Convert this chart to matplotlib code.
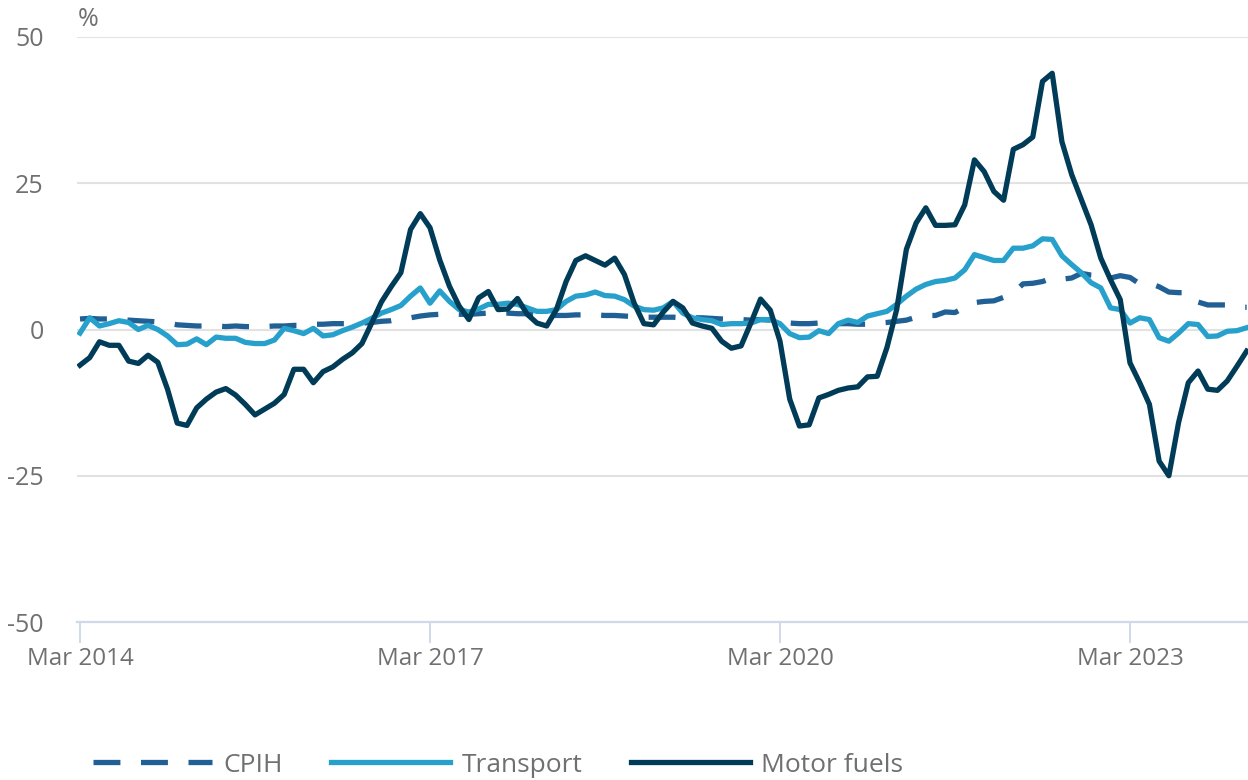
import numpy as np
import pandas as pd
import matplotlib
matplotlib.use("Agg")
import matplotlib.pyplot as plt

# annual rates, Mar 2014 - Mar 2024 (monthly)
months = pd.period_range("2014-03", "2024-03", freq="M")

cpih = [1.8, 1.9, 1.8, 1.8, 1.7, 1.6, 1.5, 1.4, 1.3, 1.1,
        0.8, 0.7, 0.6, 0.6, 0.6, 0.5, 0.6, 0.5, 0.5, 0.5, 0.6, 0.6,
        0.7, 0.7, 0.9, 0.9, 1.0, 1.0, 1.0, 1.1, 1.2, 1.4, 1.5, 1.8,
        2.0, 2.3, 2.5, 2.6, 2.7, 2.6, 2.6, 2.7, 2.8, 2.8, 2.8, 2.7,
        2.7, 2.5, 2.4, 2.4, 2.4, 2.5, 2.5, 2.5, 2.4, 2.4, 2.3, 2.2,
        2.1, 2.1, 2.1, 2.1, 2.0, 2.0, 2.0, 1.9, 1.8, 1.7, 1.7, 1.6,
        1.7, 1.6, 1.3, 1.1, 1.0, 1.0, 1.1, 1.0, 1.0, 1.0, 0.9, 0.9,
        1.1, 1.2, 1.4, 1.6, 2.1, 2.4, 2.4, 3.0, 2.9, 3.8, 4.6, 4.8,
        4.9, 5.5, 6.2, 7.8, 7.9, 8.2, 8.8, 8.6, 8.8, 9.6, 9.3, 9.2,
        8.8, 9.2, 8.9, 7.8, 7.9, 7.3, 6.4, 6.3, 6.3, 4.7, 4.2, 4.2,
        4.2, 3.8, 3.8]

transport = [-0.6, 2.0, 0.6, 1.0, 1.5, 1.2, 0.0, 0.7, 0.0, -1.1,
             -2.6, -2.5, -1.6, -2.6, -1.3, -1.5, -1.5, -2.2, -2.4, -2.4, -1.8, 0.2,
             -0.2, -0.7, 0.2, -1.1, -0.9, -0.2, 0.4, 1.1, 1.9, 2.8, 3.4, 4.1,
             5.7, 7.1, 4.5, 6.6, 4.8, 3.4, 3.0, 3.5, 4.3, 4.3, 4.5, 4.3,
             3.7, 3.1, 3.1, 3.4, 4.8, 5.7, 5.9, 6.4, 5.8, 5.7, 5.1, 4.0,
             3.4, 3.3, 3.7, 4.8, 2.8, 2.0, 1.7, 1.5, 0.85, 1.0, 1.0, 1.1,
             1.7, 1.7, 1.0, -0.7, -1.4, -1.3, -0.2, -0.7, 1.0, 1.6, 1.2, 2.3,
             2.7, 3.1, 4.3, 5.7, 6.9, 7.7, 8.2, 8.4, 8.8, 10.2, 12.8, 12.3,
             11.8, 11.8, 13.9, 13.9, 14.3, 15.5, 15.4, 12.6, 11.1, 9.7, 8.0, 7.1,
             3.7, 3.4, 1.1, 2.0, 1.7, -1.4, -2.0, -0.6, 1.0, 0.85, -1.2, -1.1,
             -0.3, -0.2, 0.3]

motor_fuels = [-6.1, -4.8, -2.1, -2.7, -2.7, -5.4, -5.8, -4.4, -5.6, -10.2,
               -16.0, -16.4, -13.4, -11.9, -10.7, -10.1, -11.2, -12.8, -14.6, -13.6, -12.6, -11.1,
               -6.8, -6.8, -9.1, -7.2, -6.4, -5.1, -4.0, -2.4, 1.1, 4.7, 7.3, 9.7,
               17.1, 19.8, 17.4, 11.9, 7.4, 4.0, 1.7, 5.4, 6.5, 3.4, 3.5, 5.3,
               2.6, 1.1, 0.6, 3.4, 8.2, 11.8, 12.6, 11.8, 11.0, 12.2, 9.4, 4.5,
               1.0, 0.8, 3.0, 4.8, 3.7, 1.1, 0.6, 0.2, -2.0, -3.2, -2.8, 1.1,
               5.2, 3.3, -2.0, -11.9, -16.5, -16.3, -11.7, -11.1, -10.4, -10.0, -9.8, -8.1,
               -8.0, -3.1, 3.4, 13.7, 18.2, 20.8, 17.8, 17.8, 17.9, 21.3, 29.0, 27.0,
               23.6, 22.1, 30.8, 31.6, 32.9, 42.4, 43.8, 32.1, 26.5, 22.2, 17.9, 12.2,
               8.5, 5.1, -5.7, -9.1, -12.8, -22.5, -25.0, -15.9, -9.1, -7.1, -10.2, -10.4,
               -8.8, -6.3, -3.7]

x = np.arange(len(months))
tick_pos = x[::36]
tick_labels = months[::36].strftime("%b %Y")
y_ticks = [-50, -25, 0, 25, 50]

plt.rcParams["font.family"] = ["Open Sans", "DejaVu Sans"]
text_grey = "#707070"

fig = plt.figure(figsize=(12.48, 7.8), dpi=100)
ax = fig.add_axes([77 / 1248, 1 - 622 / 780, 1 - 77 / 1248, 585 / 780])

ax.plot(x, cpih, color="#206095", lw=3.8, linestyle=(0, (5.1, 3.9)),
        dash_capstyle="butt", label="CPIH")
ax.plot(x, transport, color="#27a0cc", lw=3.8, label="Transport")
ax.plot(x, motor_fuels, color="#003c57", lw=3.8, label="Motor fuels")

ax.set_xlim(-0.31, 120.14)
ax.set_ylim(-50, 50)
ax.set_yticks(y_ticks)
ax.set_yticklabels([str(v) for v in y_ticks])
ax.set_xticks(tick_pos)
ax.set_xticklabels(tick_labels)

ax.grid(axis="y", color="#e2e2e2", lw=1.5)
ax.set_axisbelow(True)
for s in ["top", "right", "left"]:
    ax.spines[s].set_visible(False)
ax.spines["bottom"].set_color("#cfd9ea")
ax.spines["bottom"].set_linewidth(1.6)

ax.tick_params(axis="y", length=0, pad=24, labelsize=18, labelcolor=text_grey)
ax.tick_params(axis="x", length=15, width=1.4, color="#cfd9ea", pad=3,
               labelsize=17.4, labelcolor=text_grey)

fig.text(78 / 1248, 1 - 20 / 780, "%", fontsize=18, color=text_grey,
         ha="left", va="center")

leg = ax.legend(loc="center left", bbox_to_anchor=(93 / 1248, 1 - 765 / 780),
                bbox_transform=fig.transFigure, ncol=3, frameon=False,
                fontsize=19, handlelength=4.51, handletextpad=0.44,
                columnspacing=1.82, borderpad=0, borderaxespad=0)
for t in leg.get_texts():
    t.set_color(text_grey)

fig.savefig("out.png", dpi=100)
